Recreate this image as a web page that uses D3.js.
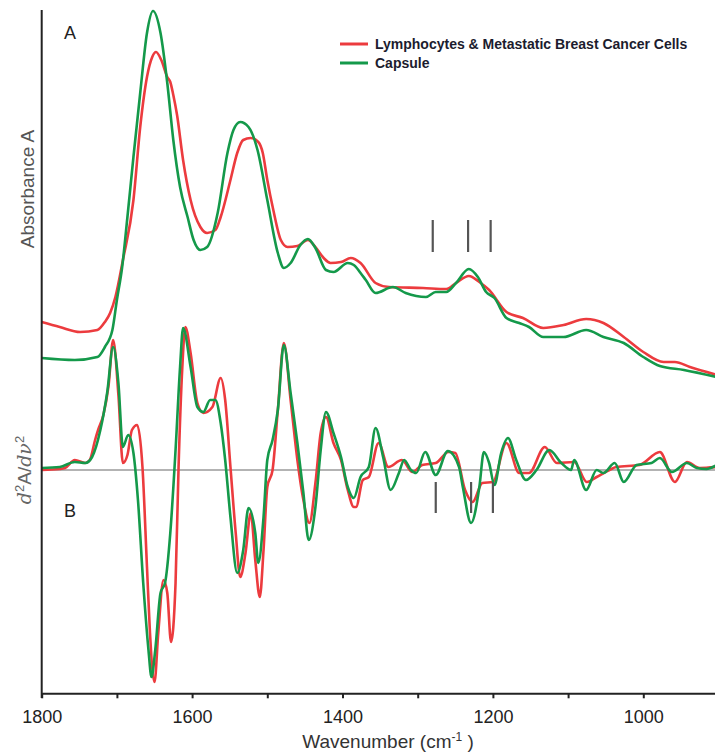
<!DOCTYPE html>
<html lang="en">
<head>
  <meta charset="UTF-8">
  <title>FTIR spectra - lymphocytes vs capsule</title>
  <style>
    body {
      margin: 0;
      background: #fff;
      overflow: hidden;
    }
    svg {
      display: block;
      font-family: "Liberation Sans", Arial, sans-serif;
    }
    .tick text {
      font-size: 18px;
      fill: #222;
    }
    .axis-title {
      font-size: 19px;
      fill: #333;
    }
    .legend text {
      font-size: 14px;
      font-weight: bold;
      fill: #1c1c2e;
    }
  </style>
</head>
<body>
<div id="chart"></div>

<script src="https://cdn.jsdelivr.net/npm/d3@7"></script>
<script>
// wavenumber (cm-1), absorbance (a.u.) - panel A
const absCells = [
  [1800, 0.39], [1776, 0.365], [1749, 0.34], [1726, 0.35], [1716, 0.39], [1709, 0.435],
  [1702, 0.515], [1692, 0.70], [1678, 1.00], [1669, 1.365], [1660, 1.615], [1653, 1.715],
  [1648, 1.74], [1641, 1.70], [1633, 1.615], [1629, 1.59], [1625, 1.525], [1620, 1.425],
  [1612, 1.20], [1602, 1.00], [1589, 0.865], [1580, 0.835], [1569, 0.85], [1562, 0.915],
  [1549, 1.10], [1540, 1.235], [1532, 1.30], [1522, 1.31], [1512, 1.29], [1506, 1.235],
  [1500, 1.10], [1492, 0.95], [1482, 0.80], [1473, 0.765], [1460, 0.77], [1446, 0.80],
  [1436, 0.765], [1425, 0.71], [1416, 0.685], [1402, 0.69], [1389, 0.71], [1376, 0.685],
  [1356, 0.585], [1338, 0.565], [1293, 0.56], [1262, 0.555], [1249, 0.585], [1232, 0.62],
  [1218, 0.59], [1205, 0.55], [1182, 0.44], [1160, 0.41], [1133, 0.36], [1106, 0.375],
  [1076, 0.405], [1053, 0.385], [1026, 0.315], [1000, 0.24], [973, 0.19], [958, 0.19],
  [938, 0.165], [902, 0.125]
];

const absCapsule = [
  [1800, 0.21], [1756, 0.20], [1726, 0.215], [1716, 0.265], [1706, 0.35], [1700, 0.50],
  [1693, 0.665], [1686, 0.915], [1678, 1.215], [1669, 1.535], [1660, 1.835], [1652, 1.945],
  [1642, 1.835], [1633, 1.585], [1625, 1.30], [1616, 1.065], [1606, 0.915], [1598, 0.80],
  [1589, 0.75], [1580, 0.765], [1566, 0.935], [1553, 1.235], [1545, 1.35], [1536, 1.39],
  [1525, 1.365], [1513, 1.25], [1500, 1.00], [1486, 0.735], [1478, 0.66], [1469, 0.685],
  [1456, 0.775], [1446, 0.805], [1436, 0.76], [1422, 0.65], [1412, 0.64], [1393, 0.685],
  [1385, 0.675], [1376, 0.635], [1369, 0.60], [1356, 0.535], [1333, 0.565], [1316, 0.535],
  [1289, 0.515], [1276, 0.54], [1262, 0.54], [1249, 0.585], [1232, 0.655], [1220, 0.615],
  [1209, 0.54], [1198, 0.51], [1182, 0.41], [1165, 0.385], [1152, 0.365], [1133, 0.315],
  [1106, 0.315], [1076, 0.35], [1053, 0.315], [1026, 0.285], [1000, 0.215], [978, 0.17],
  [946, 0.15], [902, 0.115]
];

// second derivative (a.u.) - panel B
const d2Cells = [
  [1800, 0], [1776, 0.005], [1769, 0.01], [1756, 0.05], [1742, 0.035], [1736, 0.05],
  [1729, 0.15], [1725, 0.20], [1718, 0.275], [1711, 0.425], [1705, 0.65], [1698, 0.375],
  [1692, 0.035], [1686, 0.075], [1680, 0.20], [1673, 0.225], [1666, 0.015], [1660, -0.485],
  [1656, -0.815], [1650, -1.06], [1645, -0.815], [1638, -0.55], [1633, -0.615], [1628, -0.86],
  [1622, -0.565], [1618, 0.015], [1613, 0.515], [1609, 0.715], [1602, 0.585], [1593, 0.335],
  [1585, 0.285], [1573, 0.315], [1562, 0.46], [1556, 0.35], [1549, 0.015], [1542, -0.315],
  [1536, -0.535], [1529, -0.415], [1522, -0.215], [1516, -0.45], [1510, -0.635], [1505, -0.40],
  [1500, -0.085], [1493, 0], [1486, 0.30], [1478, 0.635], [1469, 0.35], [1460, 0.05],
  [1452, -0.15], [1444, -0.265], [1436, -0.065], [1429, 0.185], [1422, 0.265], [1412, 0.135],
  [1402, 0.05], [1393, -0.10], [1385, -0.185], [1382, -0.185], [1373, -0.05], [1365, -0.035],
  [1352, 0.135], [1339, 0.015], [1321, 0.05], [1307, -0.01], [1294, 0.025], [1276, 0.035],
  [1259, 0.09], [1250, 0.085], [1237, -0.10], [1227, -0.16], [1214, -0.065], [1200, -0.06],
  [1182, 0.135], [1165, -0.015], [1152, -0.015], [1131, 0.115], [1115, 0.035], [1092, 0.04],
  [1075, -0.06], [1062, -0.035], [1045, 0], [1036, 0.015], [1005, 0.025], [978, 0.09],
  [958, -0.06], [942, 0.04], [925, 0.01], [902, 0.015]
];

const d2Capsule = [
  [1800, 0.01], [1776, 0.015], [1756, 0.04], [1742, 0.035], [1733, 0.065], [1722, 0.20],
  [1713, 0.385], [1705, 0.615], [1698, 0.435], [1692, 0.115], [1685, 0.175], [1678, 0.085],
  [1672, -0.15], [1665, -0.565], [1658, -0.90], [1654, -1.035], [1649, -0.90], [1642, -0.615],
  [1636, -0.565], [1629, -0.315], [1622, 0.10], [1616, 0.515], [1612, 0.71], [1602, 0.515],
  [1593, 0.315], [1585, 0.29], [1576, 0.35], [1569, 0.35], [1562, 0.235], [1556, 0.05],
  [1549, -0.235], [1540, -0.515], [1532, -0.40], [1525, -0.19], [1516, -0.315], [1512, -0.465],
  [1505, -0.235], [1500, 0.05], [1493, 0.15], [1486, 0.30], [1478, 0.625], [1469, 0.385],
  [1460, 0.135], [1452, -0.115], [1445, -0.35], [1436, -0.185], [1429, 0.10], [1422, 0.29],
  [1412, 0.185], [1402, 0.065], [1393, -0.085], [1385, -0.14], [1376, -0.035], [1365, 0.015],
  [1356, 0.21], [1346, 0.065], [1336, -0.10], [1325, -0.015], [1318, 0.05], [1309, 0],
  [1302, -0.015], [1290, 0.09], [1276, -0.025], [1260, 0.095], [1245, 0.015], [1240, -0.085],
  [1229, -0.265], [1218, -0.085], [1212, 0.09], [1205, 0.035], [1198, -0.075], [1189, 0.085],
  [1180, 0.16], [1169, 0.05], [1156, -0.05], [1142, 0], [1125, 0.10], [1109, 0.035],
  [1096, 0], [1092, 0.05], [1076, -0.10], [1062, 0], [1053, -0.015], [1038, 0.035],
  [1026, -0.06], [1009, 0.025], [989, 0.035], [978, 0.06], [962, -0.01], [942, 0.035],
  [929, 0.01], [916, 0.005], [902, 0.025]
];

const seriesNames = ["Lymphocytes & Metastatic Breast Cancer Cells", "Capsule"];
const seriesColors = ["#ec3b3e", "#14994a"];

const xTicks = [1800, 1700, 1600, 1500, 1400, 1300, 1200, 1100, 1000, 900];
const xLabels = [1800, 1600, 1400, 1200, 1000];

// band markers (cm-1)
const markersA = [1280, 1233, 1203];
const markersB = [1276, 1229, 1200];

const width = 715;
const height = 755;

const svg = d3.select('#chart')
  .append('svg')
  .attr('width', width)
  .attr('height', height);

const x = d3.scaleLinear().domain([1800, 900]).range([41.7, 718.5]);
const yA = d3.scaleLinear().domain([0, 2]).range([400, 0]);
const yB = d3.scaleLinear().domain([-1, 1]).range([670, 270]);

const lineA = d3.line().x(d => x(d[0])).y(d => yA(d[1])).curve(d3.curveMonotoneX);
const lineB = d3.line().x(d => x(d[0])).y(d => yB(d[1])).curve(d3.curveMonotoneX);

// zero line for the derivative
svg.append('line')
  .attr('x1', x(1800)).attr('x2', width)
  .attr('y1', yB(0)).attr('y2', yB(0))
  .style('stroke', '#9a9a9a')
  .style('stroke-width', 1.5);

// spectra, red first so green sits on top
[[absCells, d2Cells], [absCapsule, d2Capsule]].forEach((pair, i) => {
  svg.append('path')
    .datum(pair[0])
    .attr('d', lineA)
    .style('fill', 'none')
    .style('stroke', seriesColors[i])
    .style('stroke-width', 2.6);

  svg.append('path')
    .datum(pair[1])
    .attr('d', lineB)
    .style('fill', 'none')
    .style('stroke', seriesColors[i])
    .style('stroke-width', 2.6);
});

// band markers
svg.selectAll('.markA')
  .data(markersA)
  .enter().append('line')
  .attr('class', 'markA')
  .attr('x1', d => x(d)).attr('x2', d => x(d))
  .attr('y1', yA(0.9)).attr('y2', yA(0.74))
  .style('stroke', '#555')
  .style('stroke-width', 2.2);

svg.selectAll('.markB')
  .data(markersB)
  .enter().append('line')
  .attr('class', 'markB')
  .attr('x1', d => x(d)).attr('x2', d => x(d))
  .attr('y1', yB(-0.06)).attr('y2', yB(-0.215))
  .style('stroke', '#555')
  .style('stroke-width', 2.2);

// x axis
const xAxis = d3.axisBottom(x)
  .tickValues(xTicks)
  .tickSize(5)
  .tickSizeOuter(0)
  .tickPadding(8)
  .tickFormat(d => xLabels.includes(d) ? d : '');

const gx = svg.append('g')
  .attr('transform', 'translate(0,693.3)')
  .call(xAxis);
gx.select('.domain').style('stroke', '#222').style('stroke-width', 2);
gx.selectAll('.tick line').style('stroke', '#222').style('stroke-width', 2);
gx.selectAll('.tick text').attr('dy', '0.95em');

// y axis line (no ticks)
svg.append('line')
  .attr('x1', x(1800)).attr('x2', x(1800))
  .attr('y1', 10).attr('y2', 698)
  .style('stroke', '#222')
  .style('stroke-width', 2);

// axis titles
const xt = svg.append('text')
  .attr('class', 'axis-title')
  .attr('x', 388)
  .attr('y', 748)
  .attr('text-anchor', 'middle');
xt.append('tspan').text('Wavenumber (cm');
xt.append('tspan').attr('dy', -7).style('font-size', '12px').text('-1');
xt.append('tspan').attr('dy', 7).text(' )');

svg.append('text')
  .attr('class', 'axis-title')
  .attr('transform', 'translate(34,189) rotate(-90)')
  .attr('text-anchor', 'middle')
  .style('fill', '#555')
  .text('Absorbance A');

const yt = svg.append('text')
  .attr('class', 'axis-title')
  .attr('transform', 'translate(31,470) rotate(-90)')
  .attr('text-anchor', 'middle')
  .style('fill', '#666');
yt.append('tspan').style('font-family', '"DejaVu Serif", serif').style('font-style', 'italic').text('d');
yt.append('tspan').attr('dy', -7).style('font-size', '13px').text('2');
yt.append('tspan').attr('dy', 7).text('A/');
yt.append('tspan').style('font-family', '"DejaVu Serif", serif').style('font-style', 'italic').text('dν');
yt.append('tspan').attr('dy', -7).style('font-size', '13px').text('2');

// panel letters
svg.append('text').attr('x', 64).attr('y', 39)
  .style('font-size', '18px').style('fill', '#222').text('A');
svg.append('text').attr('x', 64).attr('y', 517)
  .style('font-size', '18px').style('fill', '#222').text('B');

// legend
const legend = svg.append('g').attr('class', 'legend');
seriesNames.forEach((name, i) => {
  const ly = 44 + i * 19;
  legend.append('line')
    .attr('x1', 340).attr('x2', 368)
    .attr('y1', ly).attr('y2', ly)
    .style('stroke', seriesColors[i])
    .style('stroke-width', 3);
  legend.append('text')
    .attr('x', 375).attr('y', ly)
    .attr('dy', '0.35em')
    .text(name);
});
</script>
</body>
</html>
